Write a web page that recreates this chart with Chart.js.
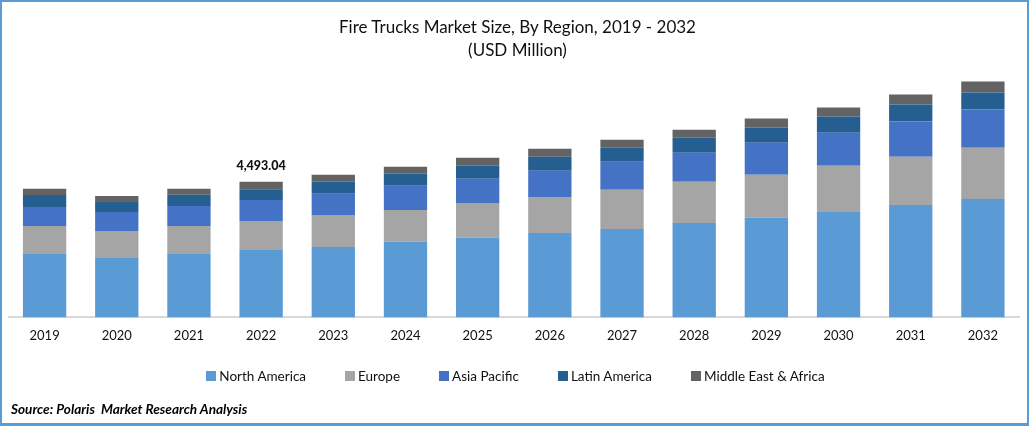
<!DOCTYPE html>
<html>
<head>
<meta charset="utf-8">
<title>Fire Trucks Market Size</title>
<script src="https://cdn.jsdelivr.net/npm/chart.js@4"></script>
<style>
  html, body { margin: 0; padding: 0; background: #fff; }
  #frame { position: relative; width: 1029px; height: 426px; box-sizing: border-box; border: 2px solid #5b9bd5; border-bottom-width: 3px; overflow: hidden; }
  #chart { position: absolute; left: 0; top: 0; }
  #title { position: absolute; left: 0; width: 1031px; top: 13px; text-align: center; font: 17px/23px Lato, sans-serif; color: #111; }
  #legend { position: absolute; left: 2px; right: 0; top: 366px; display: flex; justify-content: center; gap: 39px; font: 13.5px/16px Lato, sans-serif; color: #111; }
  #legend span { display: flex; align-items: center; gap: 3px; white-space: pre; }
  #legend i { display: block; width: 10px; height: 10px; }
  #source { position: absolute; left: 9px; top: 399px; font: italic bold 13.6px Lato, sans-serif; color: #000; white-space: pre; }
</style>
</head>
<body>
<div id="frame">
  <canvas id="chart" width="1025" height="421"></canvas>
  <div id="title">Fire Trucks Market Size, By Region, 2019 - 2032<br>(USD Million)</div>
  <div id="legend"></div>
  <div id="source">Source: Polaris  Market Research Analysis</div>
</div>
<script>
// --- data (USD million) ---
const years = ['2019', '2020', '2021', '2022', '2023', '2024', '2025', '2026', '2027', '2028', '2029', '2030', '2031', '2032'];
const northAmerica = [2097, 1997, 2097, 2230, 2330, 2506, 2639, 2796, 2929, 3128, 3305, 3494, 3727, 3927];
const europe = [932, 865, 932, 965, 1065, 1055, 1155, 1198, 1298, 1364, 1421, 1531, 1597, 1697];
const asiaPacific = [632, 632, 666, 699, 699, 799, 799, 865, 932, 965, 1065, 1098, 1165, 1265];
const latinAmerica = [399, 333, 366, 356, 399, 399, 433, 466, 466, 499, 499, 532, 566, 566];
const middleEastAfrica = [200, 200, 200, 243, 233, 233, 266, 266, 266, 266, 300, 300, 333, 366];
const calloutIndex = 3;
const calloutText = '4,493.04';

const FONT = 'Lato, sans-serif';

// total label above the 2022 stack
const calloutPlugin = {
  id: 'callout',
  afterDatasetsDraw(chart) {
    const top = chart.getDatasetMeta(chart.data.datasets.length - 1).data[calloutIndex];
    const ctx = chart.ctx;
    ctx.save();
    ctx.font = '900 12.5px ' + FONT;
    ctx.fillStyle = '#111';
    ctx.textAlign = 'center';
    ctx.textBaseline = 'bottom';
    ctx.fillText(calloutText, top.x, top.y - 10);
    ctx.restore();
  }
};

const chart = new Chart(document.getElementById('chart'), {
  type: 'bar',
  data: {
    labels: years,
    datasets: [
      { label: 'North America', data: northAmerica, backgroundColor: '#5b9bd5' },
      { label: 'Europe', data: europe, backgroundColor: '#a5a5a5' },
      { label: 'Asia Pacific', data: asiaPacific, backgroundColor: '#4472c4' },
      { label: 'Latin America', data: latinAmerica, backgroundColor: '#255e91' },
      { label: 'Middle East & Africa', data: middleEastAfrica, backgroundColor: '#636363' }
    ]
  },
  options: {
    responsive: false,
    animation: false,
    layout: { padding: { left: 6.5, right: 8, top: 74, bottom: 68 } },
    datasets: { bar: { categoryPercentage: 0.6, barPercentage: 1 } },
    scales: {
      x: {
        stacked: true,
        grid: { display: false, drawTicks: false },
        border: { color: '#d9d9d9', width: 2 },
        ticks: { color: '#111', font: { family: FONT, size: 13 }, padding: 11, maxRotation: 0 }
      },
      y: { stacked: true, display: false, min: 0, max: 8000 }
    },
    plugins: {
      legend: { display: false },
      tooltip: { enabled: false }
    }
  },
  plugins: [calloutPlugin]
});

// legend as html, built from the datasets
const legendEl = document.getElementById('legend');
chart.data.datasets.forEach(ds => {
  const item = document.createElement('span');
  const box = document.createElement('i');
  box.style.background = ds.backgroundColor;
  item.appendChild(box);
  item.appendChild(document.createTextNode(ds.label));
  legendEl.appendChild(item);
});
</script>
</body>
</html>
